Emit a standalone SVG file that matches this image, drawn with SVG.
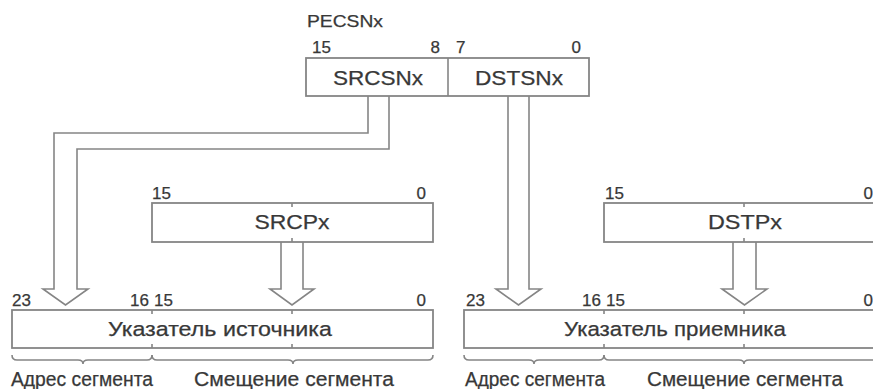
<svg xmlns="http://www.w3.org/2000/svg" width="873" height="389" viewBox="0 0 873 389">
<style>
.box{fill:#fff;stroke:#858585;stroke-width:1.8}
.ln{fill:none;stroke:#858585;stroke-width:1.6}
.arr{fill:#fff;stroke:#858585;stroke-width:1.6;stroke-linejoin:miter}
.t{font-family:"Liberation Sans",Arial,sans-serif;fill:#383838;stroke:#383838;stroke-width:0.25}
.lbl{font-size:20.5px;text-anchor:middle}
.sub{font-size:19.5px;text-anchor:middle}
.num{font-size:17px}
.e{text-anchor:end}
</style>
<rect width="873" height="389" fill="#fff"/>
<g id="connectors">
<path class="arr" d="M368,96 V133 H54 V289 H43 L65.5,305 L88,289 H77 V149 H389 V96"/>
<path class="arr" d="M508,96 V289 H496 L518.5,305 L541,289 H529 V96"/>
<path class="arr" d="M281,242 V289 H270 L292,305 L314,289 H303 V242"/>
<path class="arr" d="M733,242 V289 H722 L744.5,305 L767,289 H756 V242"/>
</g>
<g id="pecsn">
<text class="t" x="307" y="27" font-size="16.5" textLength="76" lengthAdjust="spacingAndGlyphs">PECSNx</text>
<text class="t num" x="312" y="53">15</text>
<text class="t num e" x="440" y="53">8</text>
<text class="t num" x="456" y="53">7</text>
<text class="t num e" x="581" y="53">0</text>
<rect class="box" x="306" y="58" width="283" height="38"/>
<line class="ln" x1="448" y1="58" x2="448" y2="96"/>
<text class="t lbl" x="378" y="85" textLength="90" lengthAdjust="spacingAndGlyphs">SRCSNx</text>
<text class="t lbl" x="519" y="85" textLength="88" lengthAdjust="spacingAndGlyphs">DSTSNx</text>
</g>
<g id="srcp">
<text class="t num" x="152" y="199">15</text>
<text class="t num e" x="426" y="199">0</text>
<rect class="box" x="152" y="203" width="281" height="39"/>
<line class="ln" x1="292" y1="203" x2="292" y2="207"/>
<line class="ln" x1="292" y1="238" x2="292" y2="242"/>
<text class="t lbl" x="292" y="229" textLength="75" lengthAdjust="spacingAndGlyphs">SRCPx</text>
</g>
<g id="dstp">
<text class="t num" x="605" y="199">15</text>
<text class="t num e" x="873" y="199">0</text>
<rect class="box" x="604" y="203" width="281" height="39"/>
<line class="ln" x1="744" y1="203" x2="744" y2="207"/>
<line class="ln" x1="744" y1="238" x2="744" y2="242"/>
<text class="t lbl" x="745" y="229" textLength="74" lengthAdjust="spacingAndGlyphs">DSTPx</text>
</g>
<g id="src-pointer">
<text class="t num" x="12" y="306">23</text>
<text class="t num e" x="149" y="306">16</text>
<text class="t num" x="154" y="306">15</text>
<text class="t num e" x="426" y="306">0</text>
<rect class="box" x="12" y="310" width="421" height="38"/>
<line class="ln" x1="152" y1="310" x2="152" y2="314"/>
<line class="ln" x1="152" y1="344" x2="152" y2="348"/>
<line class="ln" x1="292" y1="310" x2="292" y2="314"/>
<line class="ln" x1="292" y1="344" x2="292" y2="348"/>
<text class="t lbl" x="220" y="336" font-size="21" textLength="224" lengthAdjust="spacingAndGlyphs">Указатель источника</text>
<path class="ln" d="M12,355 q0,5 5,5 H78 q5,0 5,4 q0,-4 5,-4 H147 q5,0 5,-5"/>
<path class="ln" d="M152,355 q0,5 5,5 H288 q5,0 5,4 q0,-4 5,-4 H428 q5,0 5,-5"/>
<text class="t sub" x="82" y="386" textLength="142" lengthAdjust="spacingAndGlyphs">Адрес сегмента</text>
<text class="t sub" x="294" y="386" textLength="200" lengthAdjust="spacingAndGlyphs">Смещение сегмента</text>
</g>
<g id="dst-pointer">
<text class="t num" x="466" y="306">23</text>
<text class="t num e" x="601" y="306">16</text>
<text class="t num" x="606" y="306">15</text>
<text class="t num e" x="873" y="306">0</text>
<rect class="box" x="464" y="310" width="421" height="38"/>
<line class="ln" x1="604" y1="310" x2="604" y2="314"/>
<line class="ln" x1="604" y1="344" x2="604" y2="348"/>
<line class="ln" x1="744" y1="310" x2="744" y2="314"/>
<line class="ln" x1="744" y1="344" x2="744" y2="348"/>
<text class="t lbl" x="675" y="336" font-size="21" textLength="222" lengthAdjust="spacingAndGlyphs">Указатель приемника</text>
<path class="ln" d="M464,355 q0,5 5,5 H529 q5,0 5,4 q0,-4 5,-4 H599 q5,0 5,-5"/>
<path class="ln" d="M604,355 q0,5 5,5 H739 q5,0 5,4 q0,-4 5,-4 H880 q5,0 5,-5"/>
<text class="t sub" x="535" y="386" textLength="140" lengthAdjust="spacingAndGlyphs">Адрес сегмента</text>
<text class="t sub" x="745" y="386" textLength="196" lengthAdjust="spacingAndGlyphs">Смещение сегмента</text>
</g>
</svg>
